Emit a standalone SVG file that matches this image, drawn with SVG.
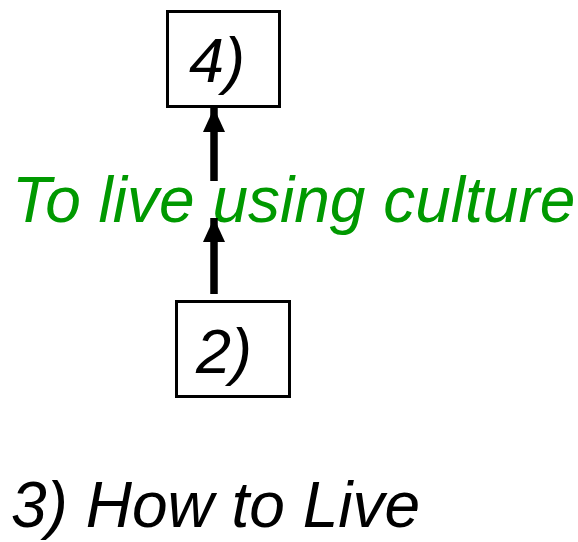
<svg xmlns="http://www.w3.org/2000/svg" width="578" height="542" viewBox="0 0 578 542">
<style>
.box{fill:#fff;stroke:#000;stroke-width:3}
.t{font-family:"Liberation Sans",Arial,sans-serif;font-style:italic;font-size:63px;fill:#000}
.b{font-size:64px}
.g{fill:#009900}
.c{stroke:#000;stroke-width:7.5;fill:none}
</style>
<defs>
<marker id="ah" viewBox="0 0 24 22" refX="24" refY="11" markerWidth="24" markerHeight="22" markerUnits="userSpaceOnUse" orient="auto">
<path d="M0,0 L24,11 L0,22 z" fill="#000"/>
</marker>
</defs>
<g id="n4">
<rect class="box" x="167.5" y="11.5" width="112" height="95"/>
<text class="t" x="189" y="82">4)</text>
</g>
<g id="n2">
<rect class="box" x="176.5" y="301.5" width="113" height="95"/>
<text class="t" x="196" y="373">2)</text>
</g>
<g id="label">
<text class="t b g" x="12" y="222">To live using culture</text>
</g>
<g id="n3">
<text class="t b" x="11" y="527">3) How to Live</text>
</g>
<g id="connectors">
<line class="c" x1="214" y1="294" x2="214" y2="218" marker-end="url(#ah)"/>
<line class="c" x1="214" y1="181" x2="214" y2="108" marker-end="url(#ah)"/>
</g>
</svg>
